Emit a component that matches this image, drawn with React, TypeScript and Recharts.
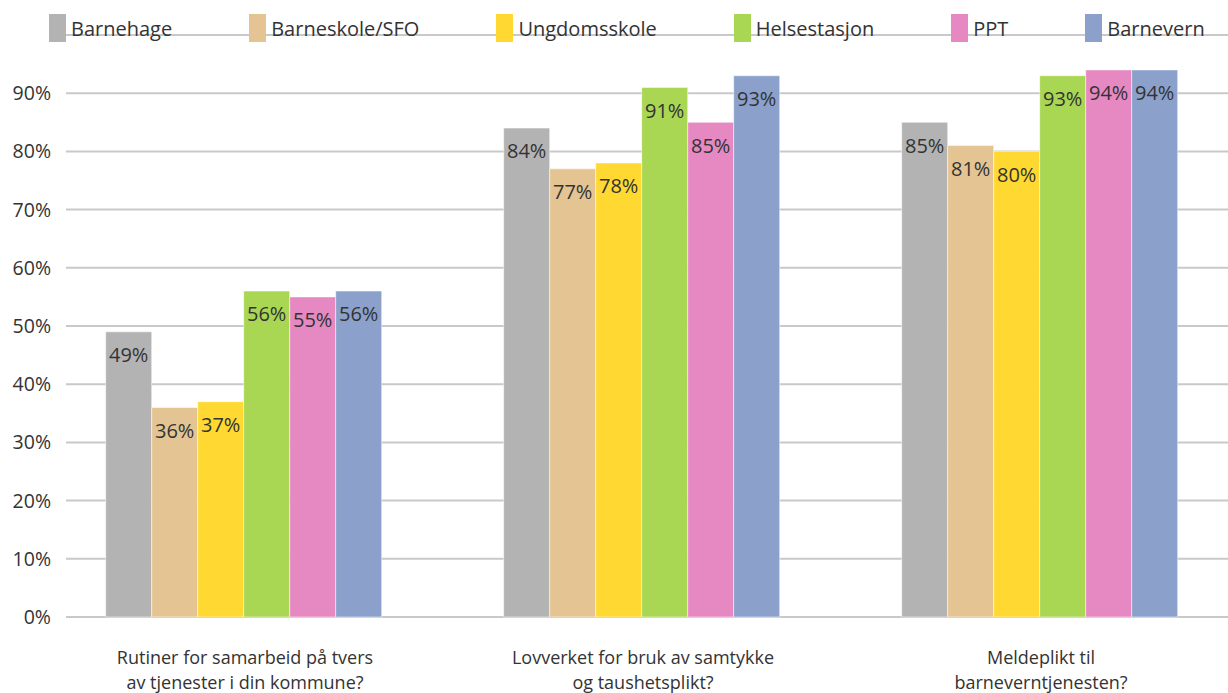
import { BarChart, Bar, XAxis, YAxis, CartesianGrid, LabelList } from 'recharts';

const categories = [
  'Rutiner for samarbeid på tvers\nav tjenester i din kommune?',
  'Lovverket for bruk av samtykke\nog taushetsplikt?',
  'Meldeplikt til\nbarneverntjenesten?',
];

const seriesNames = ['Barnehage', 'Barneskole/SFO', 'Ungdomsskole', 'Helsestasjon', 'PPT', 'Barnevern'];
const seriesColors = ['#b3b3b3', '#e4c493', '#ffd932', '#a9d753', '#e689c2', '#8ba0cb'];

const barnehage = [49, 84, 85];
const barneskole = [36, 77, 81];
const ungdomsskole = [37, 78, 80];
const helsestasjon = [56, 91, 93];
const ppt = [55, 85, 94];
const barnevern = [56, 93, 94];

const yTicks = [0, 10, 20, 30, 40, 50, 60, 70, 80, 90];

const seriesValues = [barnehage, barneskole, ungdomsskole, helsestasjon, ppt, barnevern];

const data = categories.map((name, i) => {
  const row: Record<string, string | number> = { name };
  seriesNames.forEach((s, k) => {
    row[s] = seriesValues[k][i];
  });
  return row;
});

const FONT = '"Open Sans", "Noto Sans", sans-serif';

// Kategorietikett over to linjer
const CategoryTick = ({ x, y, payload }: any) => {
  const lines = String(payload.value).split('\n');
  return (
    <text x={x} y={y} textAnchor="middle" fill="#333" fontSize={18} fontFamily={FONT}>
      {lines.map((line, i) => (
        <tspan key={i} x={x} dy={i === 0 ? 39 : 25}>
          {line}
        </tspan>
      ))}
    </text>
  );
};

const LegendRow = () => (
  <div
    style={{
      position: 'absolute',
      left: 49,
      top: 14,
      display: 'flex',
      alignItems: 'center',
      gap: 77,
      fontFamily: FONT,
      fontSize: 20,
      color: '#333',
    }}
  >
    {seriesNames.map((s, i) => (
      <div key={s} style={{ display: 'flex', alignItems: 'center', gap: 5 }}>
        <div style={{ width: 17, height: 28, background: seriesColors[i] }} />
        <span>{s}</span>
      </div>
    ))}
  </div>
);

export default function App() {
  return (
    <div
      style={{
        position: 'absolute',
        left: 0,
        top: 0,
        width: 1228,
        height: 693,
        overflow: 'hidden',
        background: '#fff',
      }}
    >
      <BarChart
        width={1260}
        height={693}
        data={data}
        margin={{ top: 35, right: 20, bottom: 0, left: 0 }}
        barCategoryGap="15%"
        barGap={0}
      >
        <CartesianGrid vertical={false} stroke="#c9c9c9" strokeWidth={2} />
        <XAxis
          dataKey="name"
          axisLine={false}
          tickLine={false}
          height={76}
          padding={{ left: -20, right: 0 }}
          tick={<CategoryTick />}
          interval={0}
        />
        <YAxis
          width={66}
          domain={[0, 100]}
          ticks={yTicks}
          axisLine={false}
          tickLine={false}
          tickSize={0}
          tickMargin={15}
          tickFormatter={(v) => `${v}%`}
          tick={{ fontSize: 19.5, fill: '#333', fontFamily: FONT }}
        />
        {seriesNames.map((s, i) => (
          <Bar
            key={s}
            dataKey={s}
            fill={seriesColors[i]}
            stroke="rgba(255,255,255,0.5)"
            strokeWidth={1}
            isAnimationActive={false}
          >
            <LabelList
              dataKey={s}
              position="insideTop"
              offset={16}
              formatter={(v: any) => `${v}%`}
              style={{ fontSize: 20, fill: '#333', fontFamily: FONT }}
            />
          </Bar>
        ))}
      </BarChart>
      <LegendRow />
    </div>
  );
}
